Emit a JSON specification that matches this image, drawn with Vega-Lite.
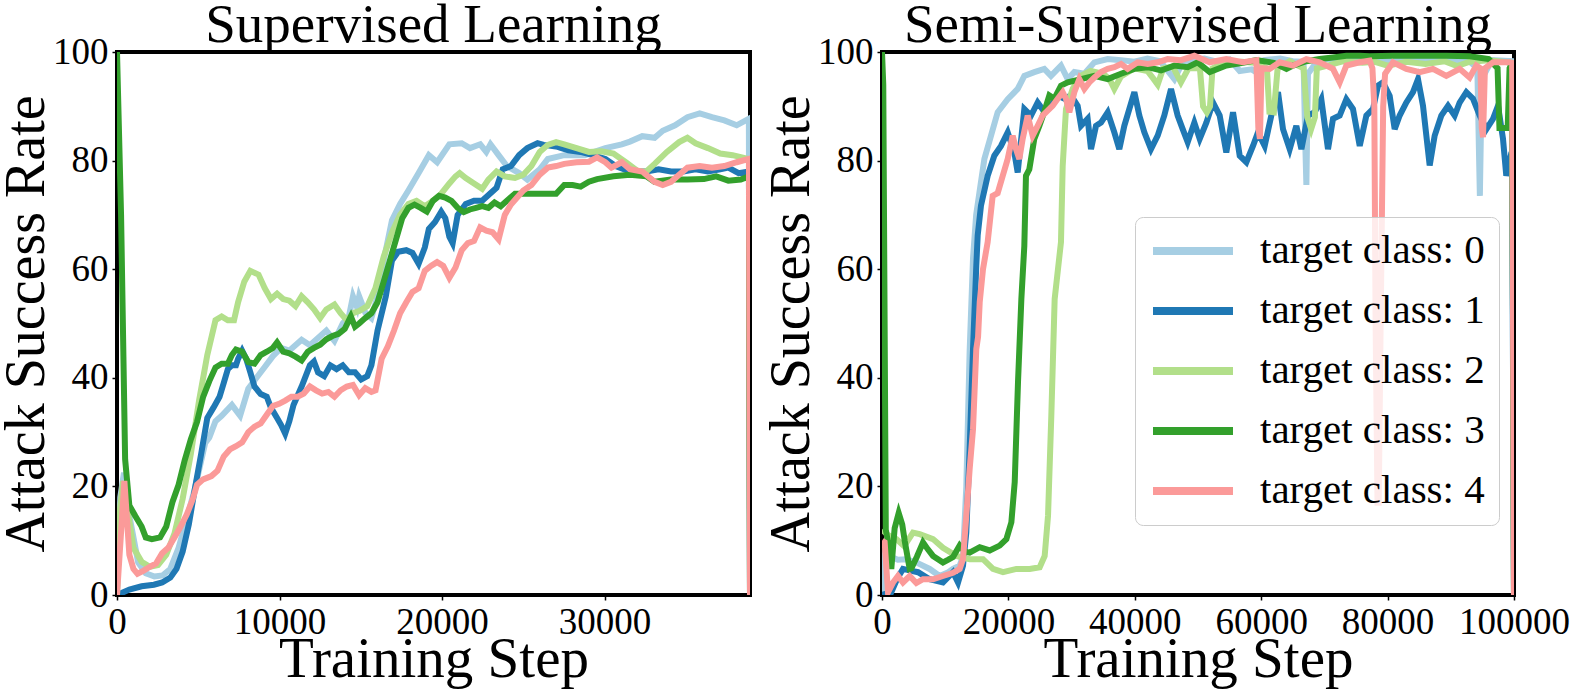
{
"$schema": "https://vega.github.io/schema/vega-lite/v6.json",
"padding": {"left": -4, "top": -4, "right": 0, "bottom": 0},
"datasets": {
"sup": [
{"c":0,"s":0,"v":0},{"c":0,"s":200,"v":18},{"c":0,"s":430,"v":22.5},{"c":0,"s":800,"v":14},{"c":0,"s":1300,"v":6},{"c":0,"s":1770,"v":4},{"c":0,"s":2300,"v":3.4},{"c":0,"s":2800,"v":3.6},{"c":0,"s":3280,"v":4.8},{"c":0,"s":3790,"v":8.7},{"c":0,"s":4290,"v":14},{"c":0,"s":4800,"v":19.7},{"c":0,"s":5430,"v":28},{"c":0,"s":5680,"v":29},{"c":0,"s":6060,"v":32},{"c":0,"s":6440,"v":33},{"c":0,"s":7070,"v":35},{"c":0,"s":7575,"v":33},{"c":0,"s":8080,"v":38},{"c":0,"s":8585,"v":40},{"c":0,"s":9090,"v":42},{"c":0,"s":9595,"v":44},{"c":0,"s":10100,"v":45.5},{"c":0,"s":10600,"v":45},{"c":0,"s":11360,"v":47},{"c":0,"s":11870,"v":46},{"c":0,"s":12880,"v":48.7},{"c":0,"s":13380,"v":46.8},{"c":0,"s":13890,"v":50},{"c":0,"s":14270,"v":51.3},{"c":0,"s":14520,"v":55},{"c":0,"s":14770,"v":53},{"c":0,"s":14900,"v":55},{"c":0,"s":15280,"v":52},{"c":0,"s":15650,"v":51},{"c":0,"s":16030,"v":55},{"c":0,"s":16410,"v":61.6},{"c":0,"s":16920,"v":69},{"c":0,"s":17420,"v":72},{"c":0,"s":17930,"v":74.5},{"c":0,"s":18560,"v":77.7},{"c":0,"s":19190,"v":81},{"c":0,"s":19700,"v":79.7},{"c":0,"s":20450,"v":83},{"c":0,"s":21210,"v":83.2},{"c":0,"s":21720,"v":82.3},{"c":0,"s":22350,"v":83},{"c":0,"s":22725,"v":81.6},{"c":0,"s":22980,"v":83},{"c":0,"s":23480,"v":81},{"c":0,"s":23990,"v":79},{"c":0,"s":24745,"v":77.7},{"c":0,"s":25250,"v":76.5},{"c":0,"s":26010,"v":78.4},{"c":0,"s":26510,"v":80.3},{"c":0,"s":27520,"v":81},{"c":0,"s":28785,"v":81},{"c":0,"s":30050,"v":82.3},{"c":0,"s":31060,"v":83},{"c":0,"s":31560,"v":83.5},{"c":0,"s":32320,"v":84.5},{"c":0,"s":33080,"v":84.2},{"c":0,"s":33580,"v":85.5},{"c":0,"s":34340,"v":86.5},{"c":0,"s":35100,"v":88},{"c":0,"s":35855,"v":88.7},{"c":0,"s":36610,"v":88},{"c":0,"s":37370,"v":87.4},{"c":0,"s":38130,"v":86.5},{"c":0,"s":38880,"v":87.7},{"c":0,"s":38950,"v":0},
{"c":1,"s":0,"v":0},{"c":1,"s":760,"v":1},{"c":1,"s":1515,"v":1.6},{"c":1,"s":2270,"v":1.9},{"c":1,"s":2780,"v":2.3},{"c":1,"s":3280,"v":3.2},{"c":1,"s":3660,"v":4.8},{"c":1,"s":4040,"v":8},{"c":1,"s":4420,"v":13},{"c":1,"s":4800,"v":19.7},{"c":1,"s":5180,"v":26},{"c":1,"s":5555,"v":32.6},{"c":1,"s":5935,"v":34.5},{"c":1,"s":6310,"v":36.5},{"c":1,"s":6565,"v":39},{"c":1,"s":6820,"v":41.6},{"c":1,"s":7070,"v":42.3},{"c":1,"s":7320,"v":42.3},{"c":1,"s":7450,"v":43.5},{"c":1,"s":7700,"v":45},{"c":1,"s":7950,"v":43.5},{"c":1,"s":8205,"v":41},{"c":1,"s":8460,"v":38.4},{"c":1,"s":8840,"v":37},{"c":1,"s":9215,"v":36.5},{"c":1,"s":9470,"v":34.5},{"c":1,"s":9850,"v":32.6},{"c":1,"s":10100,"v":31.3},{"c":1,"s":10350,"v":29.7},{"c":1,"s":10605,"v":32},{"c":1,"s":10860,"v":35},{"c":1,"s":11360,"v":38.4},{"c":1,"s":11870,"v":42.3},{"c":1,"s":12120,"v":43},{"c":1,"s":12370,"v":41},{"c":1,"s":12750,"v":40.3},{"c":1,"s":13130,"v":42.3},{"c":1,"s":13510,"v":41.6},{"c":1,"s":13890,"v":42.3},{"c":1,"s":14270,"v":41},{"c":1,"s":14645,"v":41},{"c":1,"s":15025,"v":39.7},{"c":1,"s":15400,"v":40.3},{"c":1,"s":15655,"v":42.3},{"c":1,"s":16030,"v":48.7},{"c":1,"s":16540,"v":55},{"c":1,"s":16920,"v":61.6},{"c":1,"s":17300,"v":63.2},{"c":1,"s":17800,"v":63.5},{"c":1,"s":18180,"v":63},{"c":1,"s":18560,"v":61},{"c":1,"s":18940,"v":64},{"c":1,"s":19190,"v":67.4},{"c":1,"s":19570,"v":68.7},{"c":1,"s":19950,"v":70.6},{"c":1,"s":20200,"v":69.4},{"c":1,"s":20450,"v":66},{"c":1,"s":20655,"v":64.8},{"c":1,"s":20960,"v":70},{"c":1,"s":21460,"v":72},{"c":1,"s":21970,"v":72.6},{"c":1,"s":22470,"v":72.6},{"c":1,"s":22980,"v":74},{"c":1,"s":23355,"v":75},{"c":1,"s":23735,"v":78.4},{"c":1,"s":24240,"v":79},{"c":1,"s":24745,"v":81},{"c":1,"s":25250,"v":82.3},{"c":1,"s":25880,"v":83.2},{"c":1,"s":26260,"v":82.9},{"c":1,"s":27020,"v":82.6},{"c":1,"s":27775,"v":81.9},{"c":1,"s":28530,"v":81.6},{"c":1,"s":29290,"v":81},{"c":1,"s":30050,"v":80.3},{"c":1,"s":30680,"v":79},{"c":1,"s":31560,"v":78},{"c":1,"s":32570,"v":78},{"c":1,"s":33330,"v":78.4},{"c":1,"s":34090,"v":78},{"c":1,"s":34845,"v":78},{"c":1,"s":35600,"v":78.4},{"c":1,"s":36360,"v":78},{"c":1,"s":37120,"v":78.4},{"c":1,"s":37620,"v":78.7},{"c":1,"s":38250,"v":77.7},{"c":1,"s":38885,"v":78},{"c":1,"s":38950,"v":0},
{"c":2,"s":0,"v":0},{"c":2,"s":150,"v":15},{"c":2,"s":380,"v":21},{"c":2,"s":1010,"v":8.7},{"c":2,"s":1515,"v":6.1},{"c":2,"s":2020,"v":5.2},{"c":2,"s":2525,"v":5.5},{"c":2,"s":3030,"v":7.4},{"c":2,"s":3535,"v":11.3},{"c":2,"s":4040,"v":17.7},{"c":2,"s":4545,"v":26},{"c":2,"s":5050,"v":35.8},{"c":2,"s":5555,"v":44.2},{"c":2,"s":6060,"v":50.6},{"c":2,"s":6440,"v":51.3},{"c":2,"s":6820,"v":50.6},{"c":2,"s":7200,"v":50.6},{"c":2,"s":7450,"v":53.9},{"c":2,"s":7830,"v":57.7},{"c":2,"s":8205,"v":59.7},{"c":2,"s":8710,"v":59},{"c":2,"s":9090,"v":56.5},{"c":2,"s":9470,"v":54.5},{"c":2,"s":9850,"v":55.5},{"c":2,"s":10225,"v":54.5},{"c":2,"s":10605,"v":54.2},{"c":2,"s":10985,"v":53.2},{"c":2,"s":11360,"v":55},{"c":2,"s":11740,"v":53.9},{"c":2,"s":12120,"v":52.6},{"c":2,"s":12500,"v":51},{"c":2,"s":12880,"v":52.6},{"c":2,"s":13380,"v":53.5},{"c":2,"s":13760,"v":51.9},{"c":2,"s":14140,"v":50.6},{"c":2,"s":14520,"v":51.9},{"c":2,"s":14900,"v":52.3},{"c":2,"s":15400,"v":53.2},{"c":2,"s":15900,"v":56.5},{"c":2,"s":16410,"v":62.3},{"c":2,"s":16920,"v":66.8},{"c":2,"s":17420,"v":70},{"c":2,"s":17930,"v":72},{"c":2,"s":18430,"v":72.6},{"c":2,"s":18940,"v":71.6},{"c":2,"s":19440,"v":72.6},{"c":2,"s":19950,"v":73.9},{"c":2,"s":20450,"v":75.8},{"c":2,"s":20830,"v":77.1},{"c":2,"s":21085,"v":77.7},{"c":2,"s":21460,"v":76.8},{"c":2,"s":21970,"v":75.8},{"c":2,"s":22470,"v":74.8},{"c":2,"s":22850,"v":76.5},{"c":2,"s":23355,"v":78},{"c":2,"s":23860,"v":77.1},{"c":2,"s":24490,"v":76.8},{"c":2,"s":25000,"v":77.4},{"c":2,"s":25500,"v":79},{"c":2,"s":26010,"v":81.6},{"c":2,"s":26510,"v":82.9},{"c":2,"s":27020,"v":83.4},{"c":2,"s":27520,"v":83},{"c":2,"s":28280,"v":82.3},{"c":2,"s":29040,"v":81.6},{"c":2,"s":29795,"v":81.7},{"c":2,"s":30550,"v":81.3},{"c":2,"s":31310,"v":79.7},{"c":2,"s":32070,"v":78},{"c":2,"s":32570,"v":78},{"c":2,"s":33080,"v":79.4},{"c":2,"s":33835,"v":81.6},{"c":2,"s":34590,"v":83.4},{"c":2,"s":35100,"v":84.2},{"c":2,"s":35600,"v":83.2},{"c":2,"s":36360,"v":82.3},{"c":2,"s":37120,"v":81.3},{"c":2,"s":37875,"v":81},{"c":2,"s":38885,"v":80.3},{"c":2,"s":38950,"v":0},
{"c":3,"s":0,"v":100},{"c":3,"s":250,"v":70},{"c":3,"s":500,"v":25},{"c":3,"s":760,"v":16.5},{"c":3,"s":1135,"v":14.5},{"c":3,"s":1515,"v":12.6},{"c":3,"s":1770,"v":10.6},{"c":3,"s":2145,"v":10.3},{"c":3,"s":2650,"v":10.6},{"c":3,"s":3030,"v":12.6},{"c":3,"s":3410,"v":17.1},{"c":3,"s":3790,"v":20.3},{"c":3,"s":4165,"v":24.8},{"c":3,"s":4545,"v":28.7},{"c":3,"s":4925,"v":31.9},{"c":3,"s":5300,"v":36.5},{"c":3,"s":5680,"v":39.4},{"c":3,"s":6060,"v":41.9},{"c":3,"s":6440,"v":42.6},{"c":3,"s":6820,"v":42.6},{"c":3,"s":7070,"v":44.2},{"c":3,"s":7320,"v":45.2},{"c":3,"s":7700,"v":44.8},{"c":3,"s":8080,"v":42.9},{"c":3,"s":8460,"v":42.6},{"c":3,"s":8840,"v":44.2},{"c":3,"s":9215,"v":44.8},{"c":3,"s":9595,"v":45.5},{"c":3,"s":9850,"v":46.5},{"c":3,"s":10225,"v":44.8},{"c":3,"s":10605,"v":44.5},{"c":3,"s":10985,"v":43.9},{"c":3,"s":11360,"v":43.2},{"c":3,"s":11740,"v":44.8},{"c":3,"s":12120,"v":45.5},{"c":3,"s":12500,"v":46.1},{"c":3,"s":12880,"v":47.1},{"c":3,"s":13255,"v":47.7},{"c":3,"s":13635,"v":48.1},{"c":3,"s":14015,"v":49},{"c":3,"s":14390,"v":51.3},{"c":3,"s":14645,"v":49.4},{"c":3,"s":14900,"v":50},{"c":3,"s":15275,"v":51},{"c":3,"s":15655,"v":51.9},{"c":3,"s":16030,"v":53.9},{"c":3,"s":16410,"v":57.7},{"c":3,"s":16790,"v":61.6},{"c":3,"s":17170,"v":65.5},{"c":3,"s":17550,"v":69.4},{"c":3,"s":17930,"v":71.3},{"c":3,"s":18305,"v":71.9},{"c":3,"s":18685,"v":71.3},{"c":3,"s":19065,"v":70.6},{"c":3,"s":19440,"v":72.6},{"c":3,"s":19820,"v":73.5},{"c":3,"s":20200,"v":73.2},{"c":3,"s":20580,"v":72.6},{"c":3,"s":20960,"v":71.3},{"c":3,"s":21335,"v":70.5},{"c":3,"s":21715,"v":71},{"c":3,"s":22095,"v":71.3},{"c":3,"s":22470,"v":71.6},{"c":3,"s":22850,"v":71.3},{"c":3,"s":23230,"v":72.3},{"c":3,"s":23610,"v":71.6},{"c":3,"s":23990,"v":72.6},{"c":3,"s":24490,"v":73.9},{"c":3,"s":25000,"v":73.9},{"c":3,"s":25755,"v":73.9},{"c":3,"s":26510,"v":73.9},{"c":3,"s":27020,"v":73.9},{"c":3,"s":27520,"v":75.5},{"c":3,"s":28030,"v":75.5},{"c":3,"s":28530,"v":75.2},{"c":3,"s":29040,"v":76.1},{"c":3,"s":29540,"v":76.6},{"c":3,"s":30550,"v":77.1},{"c":3,"s":31560,"v":77.4},{"c":3,"s":32570,"v":77.1},{"c":3,"s":33080,"v":76.1},{"c":3,"s":34090,"v":76.5},{"c":3,"s":35100,"v":76.5},{"c":3,"s":36110,"v":76.6},{"c":3,"s":36870,"v":77.1},{"c":3,"s":37620,"v":76.3},{"c":3,"s":38380,"v":76.5},{"c":3,"s":38885,"v":77.1},{"c":3,"s":38950,"v":0},
{"c":4,"s":0,"v":0},{"c":4,"s":455,"v":21},{"c":4,"s":760,"v":7.4},{"c":4,"s":1010,"v":4.8},{"c":4,"s":1260,"v":3.9},{"c":4,"s":1640,"v":4.5},{"c":4,"s":2020,"v":5.2},{"c":4,"s":2400,"v":5.8},{"c":4,"s":2780,"v":7.7},{"c":4,"s":3155,"v":8.7},{"c":4,"s":3535,"v":10.6},{"c":4,"s":3915,"v":12.6},{"c":4,"s":4290,"v":14.8},{"c":4,"s":4670,"v":17.7},{"c":4,"s":4925,"v":20.3},{"c":4,"s":5300,"v":21.3},{"c":4,"s":5810,"v":21.9},{"c":4,"s":6185,"v":22.9},{"c":4,"s":6565,"v":25.5},{"c":4,"s":6945,"v":26.8},{"c":4,"s":7320,"v":27.4},{"c":4,"s":7700,"v":28.1},{"c":4,"s":8080,"v":30},{"c":4,"s":8460,"v":31},{"c":4,"s":8840,"v":31.6},{"c":4,"s":9215,"v":33.2},{"c":4,"s":9595,"v":34.8},{"c":4,"s":9975,"v":35.2},{"c":4,"s":10350,"v":35.8},{"c":4,"s":10730,"v":36.5},{"c":4,"s":11110,"v":36.5},{"c":4,"s":11490,"v":37.1},{"c":4,"s":11870,"v":38.4},{"c":4,"s":12245,"v":37.7},{"c":4,"s":12625,"v":37.1},{"c":4,"s":13005,"v":37.4},{"c":4,"s":13380,"v":36.5},{"c":4,"s":13760,"v":37.7},{"c":4,"s":14140,"v":38.4},{"c":4,"s":14520,"v":38.7},{"c":4,"s":14900,"v":36.8},{"c":4,"s":15275,"v":38.1},{"c":4,"s":15655,"v":37.4},{"c":4,"s":15910,"v":37.7},{"c":4,"s":16285,"v":43.5},{"c":4,"s":16665,"v":45.8},{"c":4,"s":17045,"v":48.7},{"c":4,"s":17420,"v":51.9},{"c":4,"s":17800,"v":53.9},{"c":4,"s":18180,"v":55.8},{"c":4,"s":18560,"v":56.5},{"c":4,"s":18940,"v":59.7},{"c":4,"s":19315,"v":60.6},{"c":4,"s":19695,"v":61.3},{"c":4,"s":20075,"v":60.6},{"c":4,"s":20450,"v":58.4},{"c":4,"s":20830,"v":60.3},{"c":4,"s":21210,"v":63.5},{"c":4,"s":21590,"v":64.8},{"c":4,"s":21970,"v":65.2},{"c":4,"s":22345,"v":67.7},{"c":4,"s":22725,"v":67.1},{"c":4,"s":23105,"v":66.8},{"c":4,"s":23480,"v":65.5},{"c":4,"s":23860,"v":70},{"c":4,"s":24240,"v":71.9},{"c":4,"s":24620,"v":73.2},{"c":4,"s":25000,"v":74.5},{"c":4,"s":25500,"v":75.5},{"c":4,"s":26010,"v":77.4},{"c":4,"s":26510,"v":78.7},{"c":4,"s":27020,"v":79},{"c":4,"s":27520,"v":79.4},{"c":4,"s":28280,"v":79.7},{"c":4,"s":29040,"v":79.8},{"c":4,"s":29540,"v":80.6},{"c":4,"s":30050,"v":79.7},{"c":4,"s":30425,"v":78.7},{"c":4,"s":31060,"v":79.7},{"c":4,"s":31560,"v":78.4},{"c":4,"s":32320,"v":78},{"c":4,"s":33080,"v":76.1},{"c":4,"s":33580,"v":75.5},{"c":4,"s":34090,"v":76.1},{"c":4,"s":34590,"v":77.4},{"c":4,"s":35100,"v":78.7},{"c":4,"s":35855,"v":79},{"c":4,"s":36610,"v":78.7},{"c":4,"s":37370,"v":79},{"c":4,"s":38130,"v":79.7},{"c":4,"s":38885,"v":80.3},{"c":4,"s":38950,"v":0}
],
"semi": [
{"c":0,"s":0,"v":0},{"c":0,"s":500,"v":8},{"c":0,"s":1500,"v":7},{"c":0,"s":2500,"v":6.5},{"c":0,"s":3850,"v":6.6},{"c":0,"s":5430,"v":6},{"c":0,"s":7540,"v":4.8},{"c":0,"s":9120,"v":3.5},{"c":0,"s":10500,"v":4.2},{"c":0,"s":11230,"v":4.8},{"c":0,"s":12290,"v":5.4},{"c":0,"s":12820,"v":7.2},{"c":0,"s":13340,"v":20},{"c":0,"s":13870,"v":45},{"c":0,"s":14400,"v":62},{"c":0,"s":14900,"v":70},{"c":0,"s":15400,"v":74},{"c":0,"s":16200,"v":80.3},{"c":0,"s":17250,"v":84.6},{"c":0,"s":18300,"v":88.9},{"c":0,"s":19890,"v":91.3},{"c":0,"s":21470,"v":93.2},{"c":0,"s":22520,"v":95.6},{"c":0,"s":24100,"v":96.3},{"c":0,"s":25680,"v":96.9},{"c":0,"s":26740,"v":95.6},{"c":0,"s":28320,"v":97.5},{"c":0,"s":29380,"v":95},{"c":0,"s":30430,"v":96.3},{"c":0,"s":32020,"v":96},{"c":0,"s":33600,"v":98.1},{"c":0,"s":35710,"v":98.7},{"c":0,"s":37820,"v":98.5},{"c":0,"s":39930,"v":98.2},{"c":0,"s":42000,"v":98.8},{"c":0,"s":44000,"v":98.3},{"c":0,"s":46260,"v":95},{"c":0,"s":47300,"v":97.5},{"c":0,"s":49000,"v":98.5},{"c":0,"s":51000,"v":98.8},{"c":0,"s":53000,"v":98.2},{"c":0,"s":55000,"v":98.6},{"c":0,"s":56600,"v":96.5},{"c":0,"s":58500,"v":96.8},{"c":0,"s":59200,"v":96.3},{"c":0,"s":60500,"v":98.5},{"c":0,"s":63000,"v":98.8},{"c":0,"s":65000,"v":98.3},{"c":0,"s":66700,"v":98.2},{"c":0,"s":67000,"v":82},{"c":0,"s":67150,"v":75.5},{"c":0,"s":67400,"v":96},{"c":0,"s":69000,"v":98.5},{"c":0,"s":72000,"v":98.8},{"c":0,"s":75000,"v":98.5},{"c":0,"s":78000,"v":98.7},{"c":0,"s":81000,"v":98.3},{"c":0,"s":84000,"v":98.8},{"c":0,"s":87000,"v":98.5},{"c":0,"s":90000,"v":98.6},{"c":0,"s":93000,"v":98.2},{"c":0,"s":94200,"v":97},{"c":0,"s":94450,"v":82},{"c":0,"s":94600,"v":73.5},{"c":0,"s":94900,"v":95},{"c":0,"s":96500,"v":98.5},{"c":0,"s":99700,"v":98.3},{"c":0,"s":100000,"v":0},
{"c":1,"s":0,"v":0},{"c":1,"s":800,"v":0.3},{"c":1,"s":1470,"v":0.5},{"c":1,"s":2400,"v":3},{"c":1,"s":3320,"v":4.8},{"c":1,"s":4500,"v":4.5},{"c":1,"s":5700,"v":4.2},{"c":1,"s":7540,"v":2.9},{"c":1,"s":9650,"v":2.3},{"c":1,"s":11230,"v":4.2},{"c":1,"s":12030,"v":2.3},{"c":1,"s":12820,"v":5.4},{"c":1,"s":13340,"v":11.5},{"c":1,"s":13870,"v":26.9},{"c":1,"s":14400,"v":45.3},{"c":1,"s":14920,"v":60.6},{"c":1,"s":15140,"v":66.2},{"c":1,"s":15660,"v":71.7},{"c":1,"s":16720,"v":77.2},{"c":1,"s":17770,"v":80.9},{"c":1,"s":18830,"v":82.7},{"c":1,"s":19890,"v":85.2},{"c":1,"s":20940,"v":81.5},{"c":1,"s":21470,"v":77.8},{"c":1,"s":22520,"v":89.5},{"c":1,"s":23580,"v":88.3},{"c":1,"s":24630,"v":90.7},{"c":1,"s":25680,"v":89},{"c":1,"s":26740,"v":90.1},{"c":1,"s":27800,"v":92},{"c":1,"s":28850,"v":91.4},{"c":1,"s":29900,"v":92},{"c":1,"s":30960,"v":90.1},{"c":1,"s":31490,"v":86.4},{"c":1,"s":32540,"v":87.7},{"c":1,"s":33070,"v":82.1},{"c":1,"s":33860,"v":86.4},{"c":1,"s":34650,"v":87},{"c":1,"s":35710,"v":88.9},{"c":1,"s":36760,"v":85.2},{"c":1,"s":37550,"v":82.1},{"c":1,"s":38340,"v":86.4},{"c":1,"s":39930,"v":92.6},{"c":1,"s":40720,"v":88.3},{"c":1,"s":41510,"v":85.2},{"c":1,"s":42560,"v":82.1},{"c":1,"s":43620,"v":84.6},{"c":1,"s":44670,"v":88.3},{"c":1,"s":45730,"v":93.2},{"c":1,"s":46780,"v":88.3},{"c":1,"s":47580,"v":85.8},{"c":1,"s":48370,"v":83.4},{"c":1,"s":49420,"v":87},{"c":1,"s":50270,"v":84},{"c":1,"s":51320,"v":87},{"c":1,"s":52370,"v":90.7},{"c":1,"s":53430,"v":88.3},{"c":1,"s":54480,"v":81.5},{"c":1,"s":55540,"v":88.9},{"c":1,"s":56600,"v":80.9},{"c":1,"s":57650,"v":79.7},{"c":1,"s":58700,"v":82.7},{"c":1,"s":59490,"v":85.2},{"c":1,"s":60550,"v":82.7},{"c":1,"s":61600,"v":88.3},{"c":1,"s":62660,"v":92.6},{"c":1,"s":63450,"v":85.8},{"c":1,"s":64510,"v":82.1},{"c":1,"s":65560,"v":86.4},{"c":1,"s":66360,"v":82.1},{"c":1,"s":67400,"v":88.3},{"c":1,"s":68460,"v":88.9},{"c":1,"s":69510,"v":91.3},{"c":1,"s":70570,"v":82.1},{"c":1,"s":71360,"v":87.7},{"c":1,"s":72420,"v":88.3},{"c":1,"s":73470,"v":91.3},{"c":1,"s":74520,"v":89.5},{"c":1,"s":75590,"v":82.7},{"c":1,"s":76640,"v":88.3},{"c":1,"s":77690,"v":89.5},{"c":1,"s":78480,"v":93.8},{"c":1,"s":79270,"v":94.4},{"c":1,"s":80330,"v":91.9},{"c":1,"s":81120,"v":85.8},{"c":1,"s":81910,"v":88.3},{"c":1,"s":82970,"v":90.7},{"c":1,"s":84020,"v":92.6},{"c":1,"s":84810,"v":95},{"c":1,"s":85600,"v":90.1},{"c":1,"s":86660,"v":79.1},{"c":1,"s":87450,"v":84.6},{"c":1,"s":88500,"v":88.3},{"c":1,"s":89560,"v":90.1},{"c":1,"s":90610,"v":88.3},{"c":1,"s":91400,"v":90.7},{"c":1,"s":92460,"v":92.6},{"c":1,"s":93510,"v":91.4},{"c":1,"s":94570,"v":88.3},{"c":1,"s":95630,"v":85.8},{"c":1,"s":96680,"v":87.7},{"c":1,"s":97470,"v":90.1},{"c":1,"s":98260,"v":84},{"c":1,"s":98780,"v":77.2},{"c":1,"s":99310,"v":80},{"c":1,"s":99700,"v":79},{"c":1,"s":100000,"v":0},
{"c":2,"s":0,"v":12},{"c":2,"s":1000,"v":11},{"c":2,"s":2270,"v":10.3},{"c":2,"s":3500,"v":9},{"c":2,"s":4900,"v":11.5},{"c":2,"s":5960,"v":11.2},{"c":2,"s":8070,"v":10.3},{"c":2,"s":9650,"v":8.7},{"c":2,"s":11760,"v":7.2},{"c":2,"s":13870,"v":6.6},{"c":2,"s":15980,"v":6.6},{"c":2,"s":17560,"v":4.8},{"c":2,"s":19150,"v":4.2},{"c":2,"s":21260,"v":4.8},{"c":2,"s":23370,"v":4.8},{"c":2,"s":24950,"v":5.1},{"c":2,"s":25740,"v":7.2},{"c":2,"s":26270,"v":14.6},{"c":2,"s":26790,"v":33},{"c":2,"s":27320,"v":54.5},{"c":2,"s":28320,"v":65},{"c":2,"s":28590,"v":79},{"c":2,"s":29110,"v":89.5},{"c":2,"s":30170,"v":93.2},{"c":2,"s":31490,"v":95.6},{"c":2,"s":33000,"v":96.5},{"c":2,"s":35000,"v":96},{"c":2,"s":36000,"v":95},{"c":2,"s":36760,"v":93.2},{"c":2,"s":37820,"v":95.5},{"c":2,"s":39930,"v":97},{"c":2,"s":42000,"v":96.5},{"c":2,"s":43000,"v":95},{"c":2,"s":43620,"v":94},{"c":2,"s":44500,"v":97},{"c":2,"s":46000,"v":97.3},{"c":2,"s":47300,"v":94.4},{"c":2,"s":48500,"v":97},{"c":2,"s":50300,"v":97},{"c":2,"s":50800,"v":90},{"c":2,"s":51400,"v":88.9},{"c":2,"s":51900,"v":90},{"c":2,"s":52300,"v":97},{"c":2,"s":54000,"v":98},{"c":2,"s":57000,"v":98.2},{"c":2,"s":59000,"v":98},{"c":2,"s":60900,"v":97},{"c":2,"s":61300,"v":89},{"c":2,"s":62000,"v":88.9},{"c":2,"s":62600,"v":97},{"c":2,"s":64500,"v":98.3},{"c":2,"s":66700,"v":97},{"c":2,"s":67300,"v":88},{"c":2,"s":67900,"v":85.8},{"c":2,"s":68500,"v":88},{"c":2,"s":68800,"v":97},{"c":2,"s":70500,"v":97.5},{"c":2,"s":73000,"v":98.3},{"c":2,"s":76000,"v":98},{"c":2,"s":78000,"v":98.2},{"c":2,"s":80000,"v":97.5},{"c":2,"s":83000,"v":98.2},{"c":2,"s":86000,"v":97.8},{"c":2,"s":89000,"v":98.3},{"c":2,"s":91000,"v":97.4},{"c":2,"s":93000,"v":98.2},{"c":2,"s":96000,"v":98.5},{"c":2,"s":99700,"v":98},{"c":2,"s":100000,"v":0},
{"c":3,"s":0,"v":100},{"c":3,"s":200,"v":94},{"c":3,"s":600,"v":12},{"c":3,"s":950,"v":9.7},{"c":3,"s":1470,"v":4.8},{"c":3,"s":2000,"v":12.3},{"c":3,"s":2640,"v":15.1},{"c":3,"s":3200,"v":13},{"c":3,"s":3590,"v":10},{"c":3,"s":4380,"v":4.8},{"c":3,"s":4650,"v":4.9},{"c":3,"s":5500,"v":7},{"c":3,"s":6490,"v":9.7},{"c":3,"s":7200,"v":8.5},{"c":3,"s":8070,"v":7.2},{"c":3,"s":9650,"v":6},{"c":3,"s":10500,"v":6.5},{"c":3,"s":11230,"v":7},{"c":3,"s":12290,"v":9.1},{"c":3,"s":13070,"v":8},{"c":3,"s":13870,"v":7.8},{"c":3,"s":15460,"v":8.8},{"c":3,"s":17040,"v":8.2},{"c":3,"s":18620,"v":9.1},{"c":3,"s":19680,"v":10.3},{"c":3,"s":20470,"v":13.4},{"c":3,"s":21000,"v":20.8},{"c":3,"s":21520,"v":39.2},{"c":3,"s":22050,"v":54.5},{"c":3,"s":22520,"v":64.3},{"c":3,"s":22780,"v":77.2},{"c":3,"s":23310,"v":78.4},{"c":3,"s":24100,"v":84},{"c":3,"s":24890,"v":86.4},{"c":3,"s":25680,"v":89},{"c":3,"s":26480,"v":92},{"c":3,"s":27270,"v":91.4},{"c":3,"s":28320,"v":93.8},{"c":3,"s":29380,"v":94.4},{"c":3,"s":31490,"v":95},{"c":3,"s":33600,"v":95.6},{"c":3,"s":35710,"v":95},{"c":3,"s":37820,"v":96},{"c":3,"s":39930,"v":96.9},{"c":3,"s":42040,"v":97.2},{"c":3,"s":44150,"v":96.6},{"c":3,"s":46260,"v":97.5},{"c":3,"s":48370,"v":97.2},{"c":3,"s":49950,"v":98.1},{"c":3,"s":51850,"v":96.3},{"c":3,"s":54480,"v":97.5},{"c":3,"s":57120,"v":98},{"c":3,"s":59230,"v":98.5},{"c":3,"s":62000,"v":98},{"c":3,"s":64000,"v":96.9},{"c":3,"s":65030,"v":97.5},{"c":3,"s":67140,"v":98.3},{"c":3,"s":69250,"v":98.7},{"c":3,"s":71360,"v":99},{"c":3,"s":73470,"v":99.3},{"c":3,"s":75580,"v":99.3},{"c":3,"s":77160,"v":99.2},{"c":3,"s":80850,"v":99.3},{"c":3,"s":85070,"v":99.3},{"c":3,"s":89290,"v":99.3},{"c":3,"s":93000,"v":99.2},{"c":3,"s":96000,"v":98.7},{"c":3,"s":97400,"v":97},{"c":3,"s":97700,"v":86},{"c":3,"s":99000,"v":86},{"c":3,"s":99300,"v":97},{"c":3,"s":99700,"v":98},{"c":3,"s":100000,"v":0},
{"c":4,"s":0,"v":10},{"c":4,"s":420,"v":9.7},{"c":4,"s":950,"v":0.5},{"c":4,"s":1740,"v":2.3},{"c":4,"s":2530,"v":3.5},{"c":4,"s":3320,"v":2.3},{"c":4,"s":4380,"v":3.5},{"c":4,"s":5430,"v":2.2},{"c":4,"s":6490,"v":2.9},{"c":4,"s":8070,"v":2.9},{"c":4,"s":9650,"v":3.5},{"c":4,"s":11230,"v":4.1},{"c":4,"s":12290,"v":4.8},{"c":4,"s":12820,"v":6.6},{"c":4,"s":13340,"v":14.6},{"c":4,"s":13870,"v":23.2},{"c":4,"s":14400,"v":30.5},{"c":4,"s":14920,"v":45.3},{"c":4,"s":15200,"v":47.5},{"c":4,"s":15460,"v":53.9},{"c":4,"s":15980,"v":60},{"c":4,"s":16720,"v":65},{"c":4,"s":17510,"v":73.5},{"c":4,"s":18300,"v":74},{"c":4,"s":19100,"v":77.2},{"c":4,"s":19890,"v":80.3},{"c":4,"s":20680,"v":84.6},{"c":4,"s":21210,"v":82.1},{"c":4,"s":21730,"v":80.3},{"c":4,"s":22260,"v":84},{"c":4,"s":23050,"v":88.3},{"c":4,"s":23840,"v":84.6},{"c":4,"s":24630,"v":86.4},{"c":4,"s":25420,"v":88.3},{"c":4,"s":26210,"v":89.2},{"c":4,"s":27000,"v":90.1},{"c":4,"s":27800,"v":91.4},{"c":4,"s":28590,"v":92.6},{"c":4,"s":29110,"v":91.4},{"c":4,"s":29640,"v":88.9},{"c":4,"s":30430,"v":92.6},{"c":4,"s":31220,"v":95},{"c":4,"s":32020,"v":93.2},{"c":4,"s":32800,"v":94.4},{"c":4,"s":33600,"v":95.3},{"c":4,"s":34650,"v":96.3},{"c":4,"s":35710,"v":96.9},{"c":4,"s":36760,"v":97.2},{"c":4,"s":37820,"v":97.8},{"c":4,"s":38870,"v":96.9},{"c":4,"s":40460,"v":98.1},{"c":4,"s":42040,"v":97.8},{"c":4,"s":43620,"v":98.1},{"c":4,"s":45200,"v":98.7},{"c":4,"s":47310,"v":98.5},{"c":4,"s":49420,"v":99.3},{"c":4,"s":51850,"v":98.1},{"c":4,"s":54480,"v":98.7},{"c":4,"s":57120,"v":98.1},{"c":4,"s":59230,"v":98.5},{"c":4,"s":59550,"v":86},{"c":4,"s":59800,"v":84},{"c":4,"s":60050,"v":97},{"c":4,"s":61340,"v":96.9},{"c":4,"s":62920,"v":98.1},{"c":4,"s":65030,"v":97.5},{"c":4,"s":67140,"v":98.7},{"c":4,"s":69250,"v":98.1},{"c":4,"s":71360,"v":96.9},{"c":4,"s":72420,"v":94.4},{"c":4,"s":73470,"v":97.5},{"c":4,"s":75580,"v":98.1},{"c":4,"s":77160,"v":98.4},{"c":4,"s":77600,"v":97},{"c":4,"s":77900,"v":90},{"c":4,"s":78100,"v":50},{"c":4,"s":78400,"v":17},{"c":4,"s":78600,"v":17},{"c":4,"s":78900,"v":50},{"c":4,"s":79300,"v":90},{"c":4,"s":79600,"v":96},{"c":4,"s":80850,"v":98.1},{"c":4,"s":82960,"v":96.9},{"c":4,"s":85070,"v":96.3},{"c":4,"s":87180,"v":96.9},{"c":4,"s":89290,"v":95.6},{"c":4,"s":91400,"v":96.9},{"c":4,"s":92980,"v":95.3},{"c":4,"s":94040,"v":97.5},{"c":4,"s":94700,"v":97},{"c":4,"s":94900,"v":86},{"c":4,"s":95100,"v":84.3},{"c":4,"s":95400,"v":97},{"c":4,"s":96680,"v":98.1},{"c":4,"s":99310,"v":98.1},{"c":4,"s":99700,"v":98},{"c":4,"s":100000,"v":0}
]
},
"config": {
  "font": "Liberation Serif",
  "view": {"stroke": "black", "strokeWidth": 4},
  "axis": {"domain": false, "grid": false, "labelFont": "Liberation Serif", "labelFontSize": 37, "labelColor": "black", "titleFont": "Liberation Serif", "titleFontSize": 56, "titleFontWeight": "normal", "titleColor": "black", "tickColor": "black", "tickSize": 5, "tickWidth": 1.5, "labelPadding": 4, "labelFlush": false, "labelOverlap": false, "labelBound": false},
  "title": {"font": "Liberation Serif", "fontSize": 55, "fontWeight": "normal", "color": "black", "offset": -21, "baseline": "alphabetic"}
},
"spacing": 9,
"resolve": {"legend": {"color": "independent"}},
"hconcat": [
  {
    "title": "Supervised Learning",
    "width": 633, "height": 543,
    "data": {"name": "sup"},
    "mark": {"type": "line", "strokeWidth": 6, "clip": true},
    "encoding": {
      "x": {"field": "s", "type": "quantitative", "scale": {"domain": [0, 38950], "nice": false, "zero": false}, "axis": {"title": "Training Step", "titleFontSize": 57, "values": [0, 10000, 20000, 30000], "format": "d", "titlePadding": -9}},
      "y": {"field": "v", "type": "quantitative", "scale": {"domain": [0, 100], "nice": false}, "axis": {"title": "Attack Success Rate", "values": [0, 20, 40, 60, 80, 100], "titlePadding": -3}},
      "color": {"field": "c", "type": "nominal", "scale": {"domain": [0, 1, 2, 3, 4], "range": ["#a6cee3", "#1f78b4", "#b2df8a", "#33a02c", "#fb9a99"]}, "legend": null}
    }
  },
  {
    "title": "Semi-Supervised Learning",
    "width": 632, "height": 543,
    "data": {"name": "semi"},
    "mark": {"type": "line", "strokeWidth": 6, "clip": true},
    "encoding": {
      "x": {"field": "s", "type": "quantitative", "scale": {"domain": [0, 100000], "nice": false, "zero": false}, "axis": {"title": "Training Step", "titleFontSize": 57, "values": [0, 20000, 40000, 60000, 80000, 100000], "format": "d", "titlePadding": -9}},
      "y": {"field": "v", "type": "quantitative", "scale": {"domain": [0, 100], "nice": false}, "axis": {"title": "Attack Success Rate", "values": [0, 20, 40, 60, 80, 100], "titlePadding": -3}},
      "color": {"field": "c", "type": "nominal", "scale": {"domain": [0, 1, 2, 3, 4], "range": ["#a6cee3", "#1f78b4", "#b2df8a", "#33a02c", "#fb9a99"]},
        "legend": {"orient": "none", "legendX": 253, "legendY": 165, "title": null, "symbolType": "stroke", "symbolSize": 6400, "symbolStrokeWidth": 8, "symbolOpacity": 1, "labelFont": "Liberation Serif", "labelFontSize": 41, "labelColor": "black", "labelLimit": 400, "labelOffset": 23, "rowPadding": 19, "clipHeight": 40, "padding": 14, "strokeColor": "#cccccc", "fillColor": "rgba(255,255,255,0.8)", "cornerRadius": 8, "labelExpr": "'target class: ' + datum.label"}}
    }
  }
]
}
